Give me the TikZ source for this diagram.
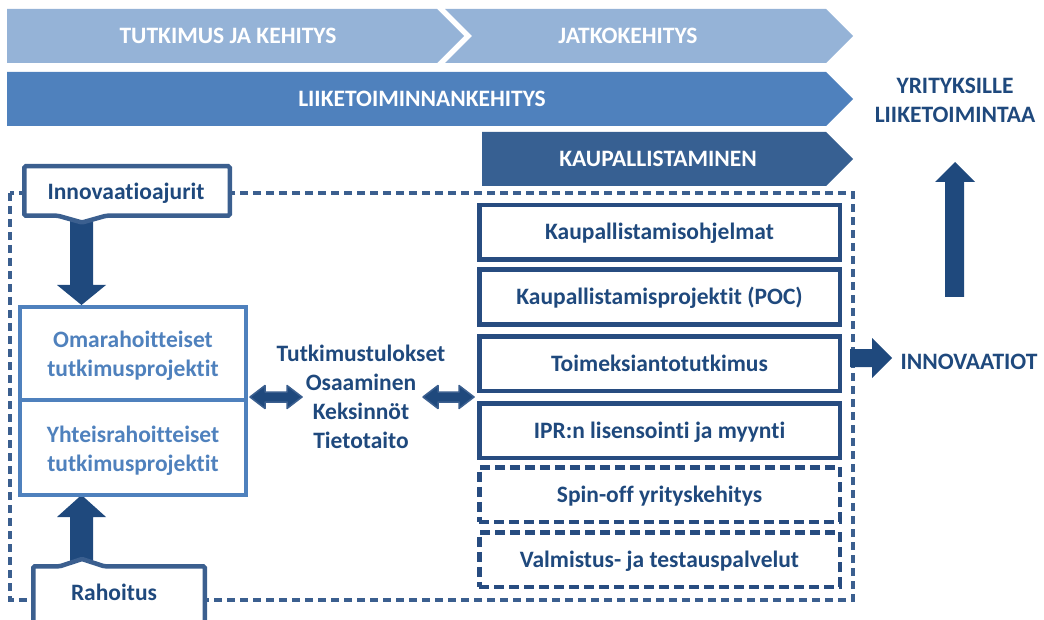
\documentclass[tikz,border=0pt]{standalone}
\usepackage{fontspec}
\setmainfont{Carlito}[Ligatures=CommonOff]
\usetikzlibrary{calc}

\definecolor{bandlight}{HTML}{95B3D7}
\definecolor{bandmid}{HTML}{4F81BD}
\definecolor{banddark}{HTML}{376092}
\definecolor{navy}{HTML}{1F497D}
\definecolor{boxnavy}{HTML}{274C80}
\definecolor{frameblue}{HTML}{3B5F8F}
\definecolor{projblue}{HTML}{4F81BD}

\newcommand\lblfont{\fontsize{23.5}{29}\selectfont\bfseries}

\begin{document}
\begin{tikzpicture}[x=1pt,y=-1pt,
  hdr/.style={text=white, font=\lblfont, inner sep=0pt, text height=15pt, text depth=0pt},
  lbl/.style={text=navy, font=\lblfont, inner sep=0pt, text height=15pt, text depth=0pt},
  multilbl/.style={text=navy, font=\lblfont, inner sep=0pt, align=center},
  rbox/.style={draw=boxnavy, line width=4.5pt, fill=white, minimum width=360.5pt,
    minimum height=54.5pt, text=navy, font=\lblfont, inner sep=0pt,
    text height=15pt, text depth=0pt},
  dbox/.style={rbox, dash pattern=on 10pt off 5pt},
  blockarrow/.style={fill=navy},
  duplex/.style={fill=navy, draw=frameblue, line width=1.5pt, line join=round},
  topbox/.style={draw=frameblue, line width=4.5pt, fill=white, rounded corners=1.5pt}
]
\useasboundingbox (0,0) rectangle (1044,620);

% phase bands
\fill[bandlight] (7,9) -- (437,9) -- (464,36) -- (437,63) -- (7,63) -- cycle;
\node[hdr] (rd) at (228,36) {TUTKIMUS JA KEHITYS};
\fill[bandlight] (445,9) -- (826,9) -- (853,36) -- (826,63) -- (445,63) -- (472,36) -- cycle;
\node[hdr] (jk) at (628,36) {JATKOKEHITYS};
\fill[bandmid] (7,72) -- (826,72) -- (853,99) -- (826,126) -- (7,126) -- cycle;
\node[hdr] (lk) at (422,99) {LIIKETOIMINNANKEHITYS};
\fill[banddark] (482,132) -- (826,132) -- (853,159) -- (826,186) -- (482,186) -- cycle;
\node[hdr] (kp) at (658,159) {KAUPALLISTAMINEN};

\node[multilbl] (biz) at (955,100) {YRITYKSILLE\\LIIKETOIMINTAA};

% outcome arrow upwards
\fill[blockarrow] (945,297) -- (945,182) -- (935,182) -- (955,162) -- (975,182) -- (964,182) -- (964,297) -- cycle;

% dashed frame around the whole process
\draw[frameblue, line width=3.5pt, dash pattern=on 8pt off 5pt] (10,193) rectangle (853,600);

% input arrows
\fill[blockarrow] (70,218) -- (93,218) -- (93,285) -- (106,285) -- (81.5,305) -- (57,285) -- (70,285) -- cycle;
\fill[blockarrow] (70,566) -- (93,566) -- (93,517) -- (106,517) -- (81.5,495) -- (57,517) -- (70,517) -- cycle;

% Innovaatioajurit
\draw[topbox] (24.25,166.25) -- (229.75,166.25) -- (229.75,215.75) -- (106,215.75) -- (82,222.5) -- (58,215.75) -- (24.25,215.75) -- cycle;
\node[lbl] (drv) at (126,192) {Innovaatioajurit};

% Rahoitus
\draw[topbox] (33.25,640) -- (33.25,566.25) -- (60,566.25) -- (82,559) -- (104,566.25) -- (204.75,566.25) -- (204.75,640);
\node[lbl] (fund) at (114,593) {Rahoitus};

% research projects
\draw[projblue, line width=4pt, fill=white] (20,307) rectangle (246,495);
\draw[projblue, line width=4pt] (20,400) -- (246,400);
\node[multilbl, text=projblue] (own) at (133,356) {Omarahoitteiset\\tutkimusprojektit};
\node[multilbl, text=projblue] (joint) at (133,451) {Yhteisrahoitteiset\\tutkimusprojektit};

% research results
\node[multilbl] (res) at (361,397) {Tutkimustulokset\\Osaaminen\\Keksinnöt\\Tietotaito};

% two-way arrows
\draw[duplex] (250,397) -- (265,385.5) -- (265,392) -- (287,392) -- (287,385.5) -- (302,397) -- (287,408.5) -- (287,402) -- (265,402) -- (265,408.5) -- cycle;
\draw[duplex] (423,397) -- (438,385.5) -- (438,392) -- (459,392) -- (459,385.5) -- (474,397) -- (459,408.5) -- (459,402) -- (438,402) -- (438,408.5) -- cycle;

% commercialisation channels
\node[rbox] (c1) at (659.5,232.5) {Kaupallistamisohjelmat};
\node[rbox] (c2) at (659.5,297) {Kaupallistamisprojektit (POC)};
\node[rbox] (c3) at (659.5,363.5) {Toimeksiantotutkimus};
\node[rbox] (c4) at (659.5,430.5) {IPR:n lisensointi ja myynti};
\node[dbox] (c5) at (659.5,494.5) {Spin-off yrityskehitys};
\node[dbox] (c6) at (659.5,559.5) {Valmistus- ja testauspalvelut};

% innovations
\fill[blockarrow] (850,349) -- (872,349) -- (872,338) -- (892,358) -- (872,378) -- (872,367) -- (850,367) -- cycle;
\node[lbl] (inn) at (969,362) {INNOVAATIOT};
\end{tikzpicture}
\end{document}
